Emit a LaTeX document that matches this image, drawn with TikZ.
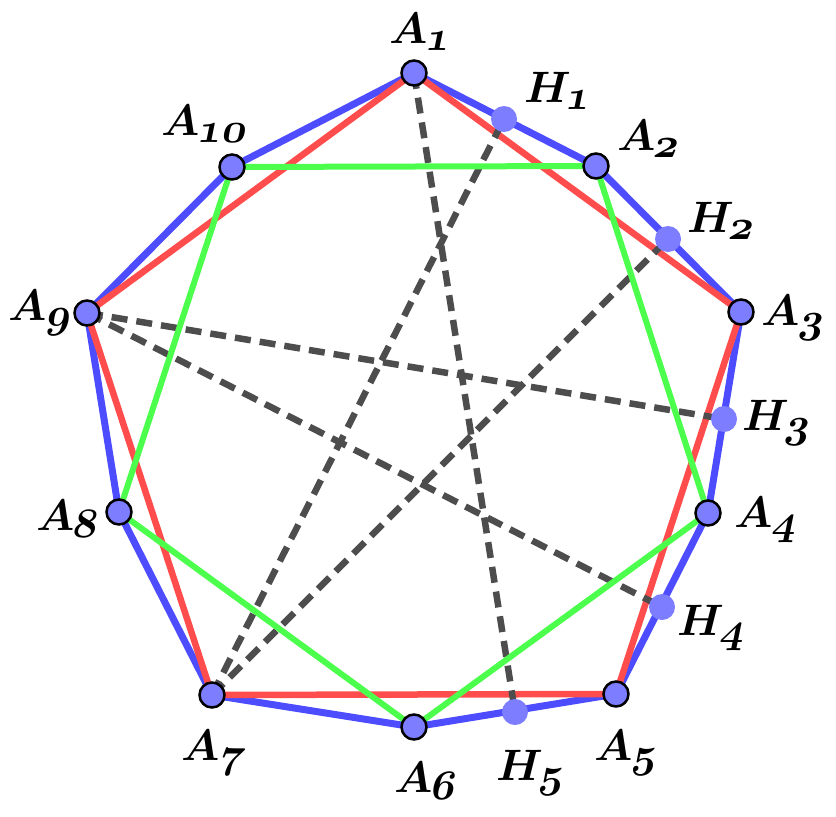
\documentclass[tikz,border=0pt]{standalone}
\DeclareFontFamily{OML}{mycmm}{\skewchar\font=127}
\DeclareFontShape{OML}{mycmm}{b}{it}{<->cmmib10}{}
\definecolor{pblue}{RGB}{77,77,255}
\definecolor{pred}{RGB}{255,77,77}
\definecolor{pgreen}{RGB}{77,255,77}
\definecolor{pgray}{RGB}{77,77,77}
\definecolor{pfill}{RGB}{125,125,255}
\newcommand{\mylabeltxt}[2]{\fontsize{44}{50}\usefont{OML}{mycmm}{b}{it}#1\kern-3pt\lower7pt\hbox{\tikz[baseline=0pt,x=1pt,y=1pt]\node[inner sep=0pt,anchor=base west,xslant=0.2,transform shape] (dg) at (0,0) {\fontsize{42}{48}\usefont{OML}{mycmm}{b}{it}#2};}}
\tikzset{
  bluel/.style={pblue,line width=7pt,line join=round},
  redl/.style={pred,line width=6.5pt,line join=round},
  greenl/.style={pgreen,line width=6pt,line join=round},
  dashl/.style={pgray,line width=6.5pt,dash pattern=on 16pt off 9pt},
  apt/.style={circle,fill=pfill,draw=black,line width=2.5pt,minimum size=25pt,inner sep=0pt},
  hpt/.style={circle,fill=pfill,minimum size=26pt,inner sep=0pt},
  labsty/.style={anchor=base west,inner sep=0pt}
}
\begin{document}
\begin{tikzpicture}[x=1pt,y=-1pt]
\useasboundingbox (0,0) rectangle (836,817);
\coordinate (A1) at (414,73);
\coordinate (A2) at (596,166);
\coordinate (A3) at (741,312);
\coordinate (A4) at (708,513);
\coordinate (A5) at (616,694);
\coordinate (A6) at (414,727);
\coordinate (A7) at (212,695);
\coordinate (A8) at (119,512);
\coordinate (A9) at (87,313);
\coordinate (A10) at (232,167);
\coordinate (H1) at (504,119);
\coordinate (H2) at (668,239);
\coordinate (H3) at (724,419);
\coordinate (H4) at (662,607);
\coordinate (H5) at (515,712);
\draw[bluel] (A1)--(A2)--(A3)--(A4)--(A5)--(A6)--(A7)--(A8)--(A9)--(A10)--cycle;
\draw[redl] (A1)--(A3)--(A5)--(A7)--(A9)--cycle;
\draw[dashl] (A1)--(H5);
\draw[dashl] (A7)--(H1);
\draw[dashl] (A7)--(H2);
\draw[dashl] (A9)--(H3);
\draw[dashl] (A9)--(H4);
\draw[greenl] (A2)--(A4)--(A6)--(A8)--(A10)--cycle;
\foreach \pn in {H1,H2,H3,H4,H5} {\node[hpt] (p\pn) at (\pn) {};}
\foreach \pn in {A1,A2,A3,A4,A5,A6,A7,A8,A9,A10} {\node[apt] (p\pn) at (\pn) {};}
\node[labsty] (lA1) at (389,43) {\mylabeltxt{A}{1}};
\node[labsty] (lH1) at (524,102) {\mylabeltxt{H}{1}};
\node[labsty] (lA2) at (617,150) {\mylabeltxt{A}{2}};
\node[labsty] (lH2) at (687,232) {\mylabeltxt{H}{2}};
\node[labsty] (lA3) at (761,325) {\mylabeltxt{A}{3}};
\node[labsty] (lH3) at (742,430) {\mylabeltxt{H}{3}};
\node[labsty] (lA4) at (734,527) {\mylabeltxt{A}{4}};
\node[labsty] (lH4) at (677,635) {\mylabeltxt{H}{4}};
\node[labsty] (lA5) at (594,760) {\mylabeltxt{A}{5}};
\node[labsty] (lH5) at (496,780) {\mylabeltxt{H}{5}};
\node[labsty] (lA6) at (394,792) {\mylabeltxt{A}{6}};
\node[labsty] (lA7) at (181,760) {\mylabeltxt{A}{7}};
\node[labsty] (lA8) at (36,530) {\mylabeltxt{A}{8}};
\node[labsty] (lA9) at (8,320) {\mylabeltxt{A}{9}};
\node[labsty] (lA10) at (161,135) {\mylabeltxt{A}{10}};
\end{tikzpicture}
\end{document}
